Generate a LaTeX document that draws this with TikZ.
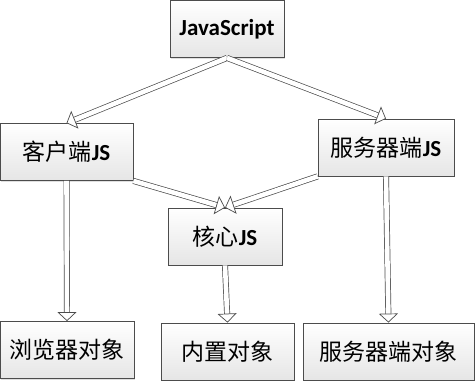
\documentclass[tikz,border=0pt]{standalone}
\usepackage{fontspec}
\setmainfont{Carlito}
\newfontfamily\zh{Noto Sans CJK SC}
\usetikzlibrary{arrows.meta,shadows}

\begin{document}
\begin{tikzpicture}[x=1pt,y=-1pt,box/.style={draw=black!70,line width=.8pt,top color=white,bottom color=black!10,drop shadow={shadow xshift=1.2pt,shadow yshift=-1.2pt,opacity=.25},inner sep=0pt,minimum height=57pt,font=\fontsize{23}{27}\selectfont},a/.style={-{Triangle[fill=white,length=9pt,width=19pt]},draw=black!70,line width=.7pt,double=white,double distance=4.6pt}]
\useasboundingbox (0,0) rectangle (476,383);
\node[box,minimum width=114pt] (js) at (227,29) {\textbf{JavaScript}};
\node[box,minimum width=133pt] (client) at (66.5,152) {{\zh 客户端}\textbf{JS}};
\node[box,minimum width=136pt] (server) at (386,147.5) {{\zh 服务器端}\textbf{JS}};
\node[box,minimum width=114pt] (core) at (225,236.5) {{\zh 核心}\textbf{JS}};
\node[box,minimum width=134pt] (browser) at (67,350) {\zh 浏览器对象};
\node[box,minimum width=133pt] (builtin) at (227.5,351.5) {\zh 内置对象};
\node[box,minimum width=171pt] (serverobj) at (388.5,351.5) {\zh 服务器端对象};
\draw[a] (js.south)--(client.north); \draw[a] (js.south)--(server.north);
\draw[a] (client.south east)--(core.north); \draw[a] (server.south west)--(core.north);
\draw[a] (client.south)--(browser.north); \draw[a] (core.south)--(builtin.north); \draw[a] (server.south)--(serverobj.north);
\end{tikzpicture}
\end{document}
